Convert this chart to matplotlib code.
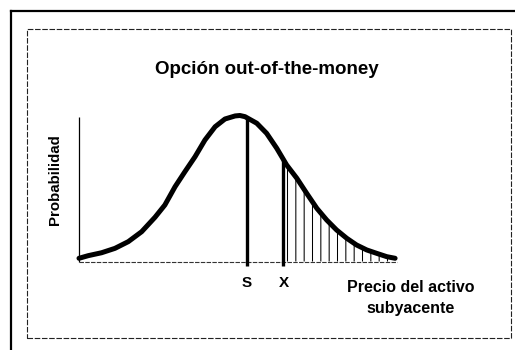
import numpy as np
import matplotlib
matplotlib.use("Agg")
import matplotlib.pyplot as plt
from matplotlib.lines import Line2D
from matplotlib.patches import Rectangle

# Price of the underlying (0-100 scale) and relative probability density
price = [0, 2.9, 7.1, 11.3, 15.5, 19.7, 23.9, 27.0, 30.2, 33.3, 36.5,
         39.6, 42.8, 45.9, 49.1, 50.6, 52.2, 55.9, 59.0, 62.2, 65.3,
         68.5, 71.6, 74.8, 77.9, 81.0, 84.2, 87.3, 90.5, 93.6, 96.8, 99.4]
prob = [0.022, 0.040, 0.060, 0.090, 0.136, 0.204, 0.303, 0.387, 0.512,
        0.615, 0.718, 0.832, 0.923, 0.976, 0.997, 1.0, 0.992, 0.947,
        0.878, 0.775, 0.661, 0.570, 0.467, 0.364, 0.284, 0.216, 0.159,
        0.113, 0.079, 0.056, 0.033, 0.022]

spot_price = 52.7     # S
strike_price = 64.3   # X
marker_labels = ["S", "X"]

title = "Opción out-of-the-money"
ylabel = "Probabilidad"
xlabel = "Precio del activo\nsubyacente"

W, H = 515, 350
FONT = ["Liberation Sans Narrow", "Liberation Sans", "DejaVu Sans"]

fig = plt.figure(figsize=(W / 100, H / 100), dpi=100)
fig.patch.set_facecolor("white")


def fx(px):
    return px / W


def fy(py):
    return 1 - py / H


# Axes spanning the whole figure; limits place the plot area inside the frame
ax = fig.add_axes([0, 0, 1, 1])
x0_px, x1_px = 79, 397        # price 0 .. 100
base_px, peak_px = 261.5, 115.5  # prob 0 .. 1
sx = (x1_px - x0_px) / 100.0
sy = (base_px - peak_px) / 1.0
ax.set_xlim(-x0_px / sx, (W - x0_px) / sx)
ax.set_ylim(-(H - base_px) / sy, base_px / sy)
ax.axis("off")

# Probability axis and dashed baseline
ax.plot([0, 0], [0, (base_px - 117) / sy], color="black", lw=0.9,
        solid_capstyle="butt")
ax.plot([0, 100], [0, 0], color="#333333", lw=0.8, linestyle=(0, (4, 1.2)))

# Shaded tail beyond the strike
xs = np.linspace(strike_price, max(price), 300)
ys = np.interp(xs, price, prob)
plt.rcParams["hatch.linewidth"] = 0.75
ax.fill_between(xs, 0, ys, facecolor="none", edgecolor="black",
                hatch="||", linewidth=0)

# S and X markers
s_top = np.interp(spot_price, price, prob)
x_top = np.interp(strike_price, price, prob)
drop = -4 / sy
ax.plot([spot_price, spot_price], [drop, s_top], color="black", lw=2.4,
        solid_capstyle="butt")
ax.plot([strike_price, strike_price], [drop, x_top], color="black", lw=2.4,
        solid_capstyle="butt")

# Density curve
ax.plot(price, prob, color="black", lw=3.6, solid_capstyle="round",
        solid_joinstyle="round")

label_y = -(283 - base_px) / sy
for pos, lab in zip([spot_price, strike_price], marker_labels):
    ax.text(pos, label_y, lab, ha="center", va="center", fontsize=11,
            fontweight="bold", family=FONT)

# Texts
fig.text(fx(267), fy(69), title, ha="center", va="center", fontsize=13.5,
         family=FONT, fontweight="bold")
fig.text(fx(55), fy(180), ylabel, ha="center", va="center", fontsize=10.8,
         rotation=90, family=FONT, fontweight="bold")
fig.text(fx(411), fy(298), xlabel, ha="center", va="center", fontsize=11.5,
         family=FONT, fontweight="bold", linespacing=1.45)

# Frame: solid outer corner lines and dashed inner box
fig.add_artist(Line2D([fx(11), 1], [fy(11), fy(11)], color="black", lw=1.6,
                      transform=fig.transFigure))
fig.add_artist(Line2D([fx(11), fx(11)], [0, fy(11)], color="black", lw=1.6,
                      transform=fig.transFigure))
fig.add_artist(Rectangle((fx(27), fy(338)), fx(511) - fx(27), fy(29) - fy(338),
                         fill=False, edgecolor="#222222", lw=0.8,
                         linestyle=(0, (5, 1.5)), transform=fig.transFigure))

fig.savefig("out.png", dpi=100)
